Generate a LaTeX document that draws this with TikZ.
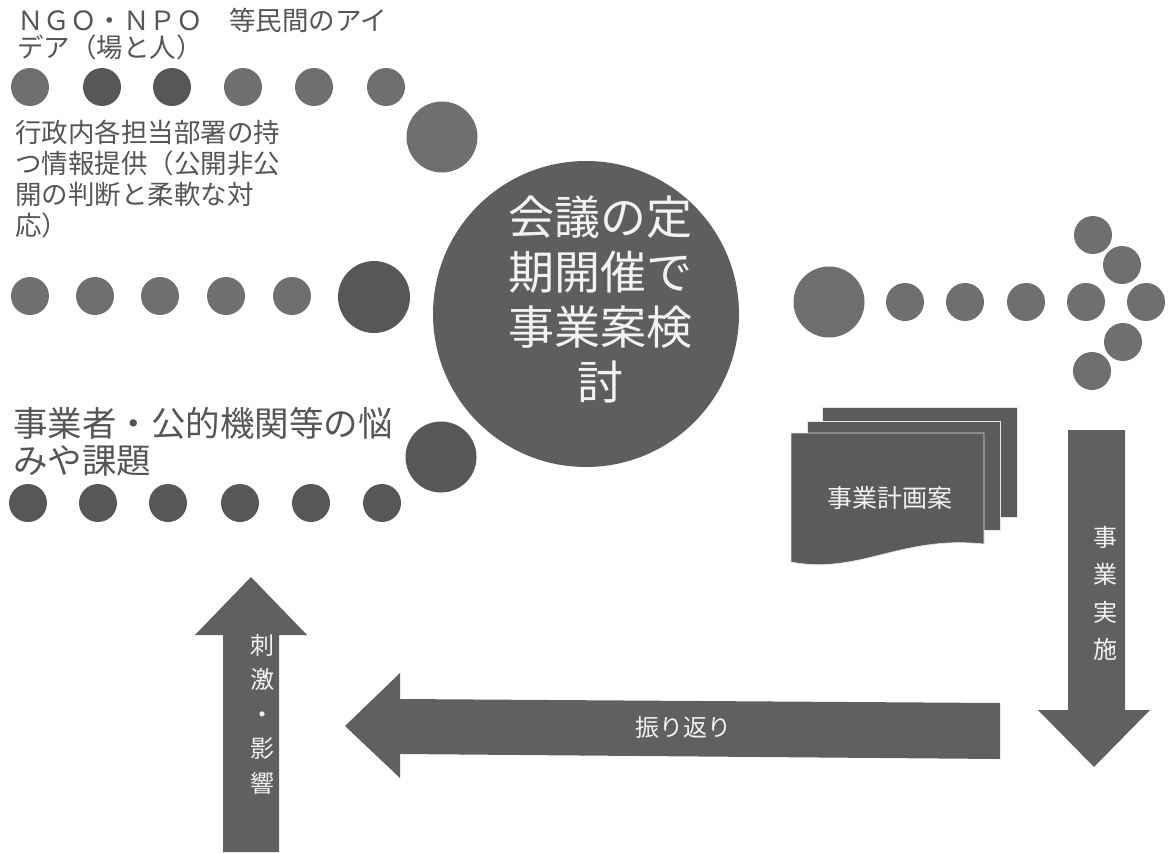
\documentclass[tikz,border=0pt]{standalone}
\usepackage{fontspec}
\setmainfont{Noto Sans CJK JP}
\definecolor{midgray}{HTML}{6F6F6F}
\definecolor{darkdot}{HTML}{575757}
\definecolor{labelgray}{HTML}{555555}
\definecolor{hubgray}{HTML}{5E5E5E}
\definecolor{arrowgray}{HTML}{606060}
\definecolor{docgray}{HTML}{5B5B5B}
\definecolor{softwhite}{HTML}{F2F2F2}
\begin{document}
\begin{tikzpicture}[x=1pt,y=-1pt,
  dot/.style={circle,inner sep=0pt,minimum size=38pt,fill=midgray},
  dotdark/.style={dot,fill=darkdot},
  bigdot/.style={circle,inner sep=0pt,minimum size=71pt,fill=midgray},
  bigdark/.style={bigdot,fill=darkdot},
  lbl/.style={anchor=north west,inner sep=0pt,align=left,text=labelgray},
  inlbl/.style={inner sep=0pt,align=center,text=softwhite},
  blockarrow/.style={fill=arrowgray},
  sheet/.style={fill=docgray,draw=white!80!gray,line width=0.6pt}]
\useasboundingbox (0,0) rectangle (1173,852);

% ---- row 1 (NGO/NPO)
\node[dot]     (r1a) at (30,87) {};
\node[dotdark] (r1b) at (102,87) {};
\node[dotdark] (r1c) at (172,87) {};
\node[dot]     (r1d) at (243,87) {};
\node[dot]     (r1e) at (314,87) {};
\node[dot]     (r1f) at (386,87) {};
\node[bigdot]  (r1g) at (442,137) {};

% ---- row 2 (administration)
\node[dot] (r2a) at (30,296) {};
\node[dot] (r2b) at (95,296) {};
\node[dot] (r2c) at (160,296) {};
\node[dot] (r2d) at (226,296) {};
\node[dot] (r2e) at (292,296) {};
\node[bigdark,minimum size=72pt] (r2f) at (374,297) {};

% ---- row 3 (businesses)
\node[dotdark] (r3a) at (28,503) {};
\node[dotdark] (r3b) at (98,503) {};
\node[dotdark] (r3c) at (168,503) {};
\node[dotdark] (r3d) at (240,503) {};
\node[dotdark] (r3e) at (311,503) {};
\node[dotdark] (r3f) at (382,503) {};
\node[bigdark]  (r3g) at (441,457) {};

% ---- hub
\node[circle,inner sep=0pt,minimum size=306pt,fill=hubgray] (hub) at (586,314) {};
\node[inlbl,anchor=north,font=\fontsize{46}{55}\selectfont] (hubtext) at (600,196)
  {会議の定\\期開催で\\事業案検\\討};

% ---- right chain
\node[bigdot] (o1) at (829,302) {};
\node[dot] (o2) at (905,302) {};
\node[dot] (o3) at (965,302) {};
\node[dot] (o4) at (1026,302) {};
\node[dot] (o5) at (1086,302) {};
\node[dot] (o6) at (1146,302) {};
\node[dot] (h1) at (1093,235) {};
\node[dot] (h2) at (1122,265) {};
\node[dot] (h3) at (1123,342) {};
\node[dot] (h4) at (1092,371) {};

% ---- labels
\node[lbl,font=\fontsize{26.5}{27}\selectfont] (lab1) at (17,8)
  {ＮＧＯ・ＮＰＯ　等民間のアイ\\デア（場と人）};
\node[lbl,font=\fontsize{26.5}{31}\selectfont] (lab2) at (15,120)
  {行政内各担当部署の持\\つ情報提供（公開非公\\開の判断と柔軟な対\\応）};
\node[lbl,font=\fontsize{34.5}{37}\selectfont] (lab3) at (13,407)
  {事業者・公的機関等の悩\\みや課題};

% ---- document stack
\draw[sheet] (822,407) rectangle (1017,517);
\draw[sheet] (807,421) rectangle (1000,530);
\draw[sheet] (791,433) -- (984,433) -- (984,544)
  .. controls (900,535) and (860,575) .. (791,562) -- cycle;
\node[inlbl,font=\fontsize{25}{25}\selectfont] (doctext) at (890,498) {事業計画案};

% ---- down arrow
\fill[blockarrow] (1068,430) -- (1125,430) -- (1125,710) -- (1150,710)
  -- (1094,767) -- (1038,710) -- (1068,710) -- cycle;
\node[inlbl,font=\fontsize{24}{37.5}\selectfont,anchor=north] (downtext) at (1105,526)
  {事\\業\\実\\施};

% ---- left arrow
\fill[blockarrow] (1000,703) -- (400,699) -- (400,673) -- (345,726)
  -- (400,778) -- (400,754) -- (1000,759) -- cycle;
\node[inlbl,font=\fontsize{24}{24}\selectfont] (backtext) at (683,727) {振り返り};

% ---- up arrow
\fill[blockarrow] (223,852) -- (223,635) -- (195,635) -- (251,577)
  -- (307,635) -- (279,635) -- (279,852) -- cycle;
\node[inlbl,font=\fontsize{24}{34.5}\selectfont,anchor=north] (uptext) at (262,634)
  {刺\\激\\・\\影\\響};
\end{tikzpicture}
\end{document}
